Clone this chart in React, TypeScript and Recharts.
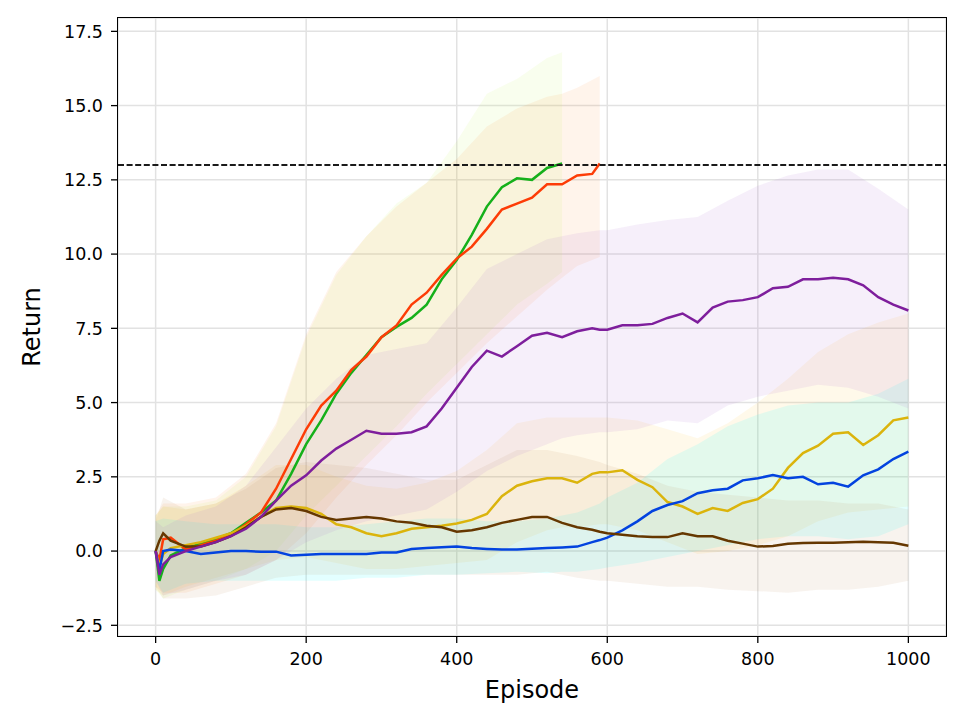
import React from "react";
import {
  ComposedChart,
  Line,
  Area,
  XAxis,
  YAxis,
  CartesianGrid,
  ReferenceLine,
} from "recharts";

// mean return per episode
const EPISODES = [
  0, 5, 10, 20, 40, 60, 80, 100, 120, 140, 160, 180, 200, 220, 240, 260, 280,
  300, 320, 340, 360, 380, 400, 420, 440, 460, 480, 500, 520, 540, 560, 580,
  590, 600, 620, 640, 660, 680, 700, 720, 740, 760, 780, 800, 820, 840, 860,
  880, 900, 920, 940, 960, 980, 1000,
];
const GREEN = [
  0, -1.0, -0.6, -0.15, 0.1, 0.25, 0.4, 0.6, 0.95, 1.3, 1.7, 2.6, 3.6, 4.4,
  5.3, 6.0, 6.6, 7.2, 7.55, 7.85, 8.3, 9.15, 9.8, 10.65, 11.6, 12.25, 12.55,
  12.5, 12.9, 13.05,
];
const RED = [
  0, -0.3, 0.4, 0.45, 0.05, 0.2, 0.35, 0.55, 0.9, 1.3, 2.1, 3.1, 4.1, 4.9, 5.4,
  6.1, 6.55, 7.2, 7.6, 8.3, 8.7, 9.3, 9.85, 10.25, 10.85, 11.5, 11.7, 11.9,
  12.35, 12.35, 12.65, 12.7, 13.05,
];
const PURPLE = [
  0, -0.8, -0.45, -0.2, 0.0, 0.15, 0.3, 0.5, 0.75, 1.15, 1.7, 2.2, 2.55, 3.05,
  3.45, 3.75, 4.05, 3.95, 3.95, 4.0, 4.2, 4.8, 5.5, 6.2, 6.75, 6.55, 6.9, 7.25,
  7.35, 7.2, 7.4, 7.5, 7.45, 7.45, 7.6, 7.6, 7.65, 7.85, 8.0, 7.7, 8.2, 8.4,
  8.45, 8.55, 8.85, 8.9, 9.15, 9.15, 9.2, 9.15, 8.95, 8.55, 8.3, 8.1,
];
const YELLOW = [
  0, -0.5, -0.1, 0.1, 0.2, 0.3, 0.45, 0.6, 0.85, 1.15, 1.45, 1.5, 1.45, 1.25,
  0.9, 0.8, 0.6, 0.5, 0.6, 0.75, 0.8, 0.85, 0.93, 1.05, 1.25, 1.85, 2.2, 2.35,
  2.45, 2.45, 2.3, 2.6, 2.65, 2.65, 2.72, 2.4, 2.15, 1.65, 1.5, 1.25, 1.45,
  1.35, 1.62, 1.75, 2.1, 2.8, 3.3, 3.55, 3.95, 4.0, 3.57, 3.9, 4.4, 4.5,
];
const BLUE = [
  0, -0.65, 0.0, 0.05, 0.0, -0.1, -0.05, 0.0, 0.0, -0.02, -0.02, -0.15, -0.12,
  -0.1, -0.1, -0.1, -0.1, -0.05, -0.05, 0.07, 0.1, 0.13, 0.15, 0.1, 0.07, 0.05,
  0.05, 0.08, 0.1, 0.12, 0.15, 0.3, 0.37, 0.45, 0.7, 1.0, 1.35, 1.55, 1.68,
  1.95, 2.05, 2.1, 2.38, 2.45, 2.56, 2.45, 2.5, 2.25, 2.3, 2.17, 2.55, 2.75,
  3.1, 3.35,
];
const BROWN = [
  0, 0.35, 0.6, 0.35, 0.15, 0.15, 0.3, 0.5, 0.8, 1.15, 1.4, 1.45, 1.35, 1.15,
  1.05, 1.1, 1.15, 1.1, 1.0, 0.95, 0.85, 0.8, 0.65, 0.7, 0.8, 0.95, 1.05, 1.15,
  1.15, 0.95, 0.8, 0.72, 0.65, 0.6, 0.55, 0.5, 0.47, 0.47, 0.6, 0.5, 0.5, 0.35,
  0.25, 0.15, 0.17, 0.25, 0.27, 0.28, 0.28, 0.3, 0.31, 0.3, 0.28, 0.18,
];

// spread bands, on a coarser episode grid
const BAND_EPISODES = [
  0, 10, 40, 80, 120, 160, 200, 240, 280, 320, 360, 400, 440, 480, 520, 540,
  560, 590, 600, 640, 680, 720, 760, 800, 840, 880, 920, 960, 1000,
];
const GREEN_LO = [-1.3, -1.6, -1.3, -1.0, -0.6, 0.0, 1.2, 2.2, 3.2, 4.2, 5.3, 6.3, 7.3, 8.3, 9.0, 9.4];
const GREEN_HI = [1.2, 1.5, 1.5, 1.7, 2.5, 4.2, 7.2, 9.3, 10.6, 11.7, 12.4, 13.8, 15.4, 15.9, 16.6, 16.8];
const RED_LO = [-1.2, -1.4, -1.4, -1.1, -0.8, -0.3, 0.6, 1.8, 2.9, 3.9, 5.0, 6.0, 7.0, 7.9, 8.8, 9.2, 9.6, 9.9];
const RED_HI = [1.2, 1.6, 1.6, 1.8, 2.6, 4.3, 7.3, 9.4, 10.6, 11.6, 12.4, 13.2, 14.3, 14.9, 15.3, 15.4, 15.6, 16.0];
const PURPLE_LO = [
  -1.0, -1.5, -1.3, -1.0, -0.8, -0.3, 0.3, 0.7, 1.0, 1.2, 1.4, 2.0, 2.7, 3.2,
  3.6, 3.8, 3.9, 4.0, 4.0, 4.1, 4.4, 4.3, 4.9, 5.2, 5.4, 5.6, 5.5, 5.2, 4.8,
];
const PURPLE_HI = [
  1.0, 0.8, 1.2, 1.5, 2.2, 3.5, 4.8, 5.8, 6.6, 6.8, 7.0, 8.2, 9.5, 10.0, 10.5,
  10.6, 10.7, 10.8, 10.8, 11.0, 11.15, 11.25, 11.8, 12.3, 12.65, 12.85, 12.85,
  12.2, 11.5,
];
const YELLOW_LO = [
  -1.3, -1.5, -1.2, -0.9, -0.6, -0.3, -0.2, -0.4, -0.6, -0.6, -0.5, -0.4, -0.3,
  0.3, 0.7, 0.8, 0.8, 0.9, 0.9, 0.7, 0.3, -0.1, 0.0, 0.2, 0.5, 1.0, 1.3, 1.4,
  1.5,
];
const YELLOW_HI = [
  1.2, 1.5, 1.4, 1.6, 2.2, 2.9, 2.9, 2.5, 2.2, 2.1, 2.3, 2.7, 3.4, 4.3, 4.5,
  4.5, 4.5, 4.5, 4.5, 4.4, 4.1, 3.8, 4.3, 5.0, 5.8, 6.7, 7.3, 7.7, 8.0,
];
const BLUE_LO = [
  -1.0, -1.4, -1.1, -1.0, -1.0, -1.0, -1.0, -1.0, -0.9, -0.9, -0.8, -0.8,
  -0.75, -0.7, -0.75, -0.7, -0.7, -0.6, -0.55, -0.4, -0.2, 0.0, 0.2, 0.4, 0.5,
  0.5, 0.4, 0.5, 0.9,
];
const BLUE_HI = [
  1.0, 1.1, 1.0, 0.9, 0.9, 0.9, 0.8, 0.8, 0.9, 1.0, 1.1, 1.1, 1.0, 1.0, 1.1,
  1.2, 1.3, 1.6, 1.8, 2.3, 3.1, 3.6, 4.2, 4.6, 4.9, 5.0, 5.0, 5.3, 5.8,
];
const BROWN_LO = [
  -1.2, -1.6, -1.6, -1.5, -1.2, -0.9, -0.8, -0.8, -0.8, -0.8, -0.8, -0.8, -0.8,
  -0.8, -0.7, -0.8, -0.9, -1.0, -1.0, -1.1, -1.2, -1.2, -1.3, -1.35, -1.4,
  -1.3, -1.3, -1.2, -1.0,
];
const BROWN_HI = [
  1.0, 1.8, 1.4, 1.6, 2.1, 2.8, 3.0, 2.9, 2.8, 2.6, 2.4, 2.4, 2.9, 3.4, 3.4,
  3.3, 3.2, 3.0, 2.9, 2.6, 2.2, 2.0, 1.9, 1.8, 1.7, 1.7, 1.6, 1.6, 1.4,
];

const X_TICKS = [0, 200, 400, 600, 800, 1000];
const Y_TICKS = [-2.5, 0, 2.5, 5, 7.5, 10, 12.5, 15, 17.5];
const TARGET = 13;

const SERIES = [
  { key: "green", line: "#15b01a", band: "#c4f25a", op: 0.1 },
  { key: "red", line: "#fd3c06", band: "#f97306", op: 0.08 },
  { key: "yellow", line: "#dbb40c", band: "#ffc21a", op: 0.09 },
  { key: "blue", line: "#0343df", band: "#00ffff", op: 0.11 },
  { key: "brown", line: "#653700", band: "#b07a45", op: 0.09 },
  { key: "purple", line: "#7e1e9c", band: "#b06fd0", op: 0.11 },
];

const at = (arr: number[], i: number) => (i < arr.length ? arr[i] : null);
const band = (lo: number[], hi: number[], i: number) =>
  i < lo.length ? [lo[i], hi[i]] : null;

const lineRows = EPISODES.map((ep, i) => ({
  ep,
  green: at(GREEN, i),
  red: at(RED, i),
  purple: at(PURPLE, i),
  yellow: at(YELLOW, i),
  blue: at(BLUE, i),
  brown: at(BROWN, i),
}));

const bandRows = BAND_EPISODES.map((ep, i) => ({
  ep,
  green: band(GREEN_LO, GREEN_HI, i),
  red: band(RED_LO, RED_HI, i),
  purple: band(PURPLE_LO, PURPLE_HI, i),
  yellow: band(YELLOW_LO, YELLOW_HI, i),
  blue: band(BLUE_LO, BLUE_HI, i),
  brown: band(BROWN_LO, BROWN_HI, i),
}));

const W = 952;
const H = 710;
const MARGIN = { top: 10, right: 14, bottom: 0, left: 0 };
const X_DOMAIN = [-50, 1050];
const Y_DOMAIN = [-2.86, 17.95];
const FONT = "DejaVu Sans";
const tickStyle = { fill: "#000", fontSize: 17.5, fontFamily: FONT };

const fmtY = (v: number) =>
  v < 0 ? `\u2212${Math.abs(v).toFixed(1)}` : v.toFixed(1);

export default function App() {
  return (
    <div style={{ position: "relative", width: W, height: H, fontFamily: FONT }}>
      <div style={{ position: "absolute", left: 0, top: 0 }}>
        <ComposedChart width={W} height={H} data={bandRows} margin={MARGIN}>
          <CartesianGrid stroke="#e2e2e2" strokeWidth={1.5} />
          <XAxis
            dataKey="ep"
            type="number"
            domain={X_DOMAIN}
            ticks={X_TICKS}
            allowDataOverflow
            height={82}
            axisLine={false}
            tickLine={{ stroke: "#000", strokeWidth: 1.3 }}
            tickSize={7}
            tickMargin={10}
            tick={tickStyle}
            label={{
              value: "Episode",
              position: "insideBottom",
              offset: 20,
              fontSize: 24,
              fill: "#000",
              fontFamily: FONT,
            }}
          />
          <YAxis
            type="number"
            domain={Y_DOMAIN}
            ticks={Y_TICKS}
            allowDataOverflow
            width={110}
            axisLine={false}
            tickLine={{ stroke: "#000", strokeWidth: 1.3 }}
            tickSize={7}
            tickMargin={8}
            tick={tickStyle}
            tickFormatter={fmtY}
            label={{
              value: "Return",
              angle: -90,
              position: "insideLeft",
              offset: 23,
              fontSize: 24,
              fill: "#000",
              fontFamily: FONT,
              style: { textAnchor: "middle" },
            }}
          />
          {SERIES.map((s) => (
            <Area
              key={s.key}
              dataKey={s.key}
              type="linear"
              stroke="none"
              fill={s.band}
              fillOpacity={s.op}
              isAnimationActive={false}
              dot={false}
              activeDot={false}
            />
          ))}
        </ComposedChart>
      </div>
      <div style={{ position: "absolute", left: 0, top: 0 }}>
        <ComposedChart width={W} height={H} data={lineRows} margin={MARGIN}>
          <XAxis
            dataKey="ep"
            type="number"
            domain={X_DOMAIN}
            allowDataOverflow
            height={82}
            axisLine={false}
            tickLine={false}
            tick={false}
          />
          <YAxis
            type="number"
            domain={Y_DOMAIN}
            allowDataOverflow
            width={110}
            axisLine={false}
            tickLine={false}
            tick={false}
          />
          {SERIES.map((s) => (
            <Line
              key={s.key}
              dataKey={s.key}
              type="linear"
              stroke={s.line}
              strokeWidth={2.5}
              dot={false}
              activeDot={false}
              isAnimationActive={false}
            />
          ))}
          <ReferenceLine
            y={TARGET}
            stroke="#1a1a1a"
            strokeWidth={2}
            strokeDasharray="6 2.6"
          />
        </ComposedChart>
      </div>
      <div
        style={{
          position: "absolute",
          left: 109.3,
          top: 9.3,
          width: 829.4,
          height: 619.4,
          border: "1.4px solid #000",
          boxSizing: "border-box",
          pointerEvents: "none",
        }}
      />
    </div>
  );
}
